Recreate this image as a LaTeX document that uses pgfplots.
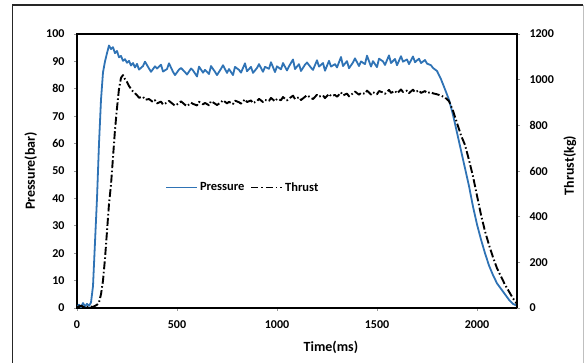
\documentclass[border=0pt]{standalone}
\usepackage{pgfplots}
\pgfplotsset{compat=1.18}
\usepackage{fontspec}
\setmainfont{Carlito}
\definecolor{pblue}{HTML}{2F73B5}

\begin{document}
\begin{tikzpicture}[x=1pt,y=1pt]
\useasboundingbox (0,0) rectangle (586,363);
\draw[line width=1.6pt, black!85] (12.5,0) -- (12.5,358) -- (583,358);
\draw[line width=1pt, black!25] (583,358) -- (583,0);

\begin{axis}[
  at={(77pt,55pt)}, anchor=south west,
  scale only axis, width=440pt, height=274pt,
  xmin=0, xmax=2200, ymin=0, ymax=100,
  xtick={0,500,1000,1500,2000},
  ytick={0,10,...,100},
  xtick pos=bottom, ytick pos=left,
  tick align=outside, major tick length=3pt,
  every tick/.style={black!40, line width=0.6pt},
  axis line style={black, line width=1.3pt},
  /pgf/number format/assume math mode=true,
  /pgf/number format/1000 sep={},
  tick label style={font=\fontsize{12}{14}\selectfont\bfseries},
  xticklabel style={yshift=-6pt},
  yticklabel style={xshift=-6pt},
  xlabel={Time(ms)},
  ylabel={Pressure(bar)},
  label style={font=\fontsize{14}{16}\selectfont\bfseries},
  xlabel style={at={(axis description cs:0.577,0)}, anchor=center, yshift=-39pt},
  ylabel style={at={(axis description cs:-0.105,0.5)}, anchor=center},
  legend columns=2,
  legend style={draw=none, fill=none, at={(axis cs:440,44)}, anchor=west,
    font=\fontsize{12.5}{14}\selectfont\bfseries, inner sep=0pt,
    /tikz/every even column/.style={column sep=4pt}},
  legend image code/.code={\draw[#1] (0pt,0pt) -- (31pt,0pt);},
]
\addplot[pblue, line width=1.8pt, line join=round] coordinates {
(0,0.5) (10,1.2) (20,0.3) (30,1.8) (40,0.6) (50,1.5) (60,0.8) (70,2) (80,8) (90,24)
(100,40) (110,60) (120,76) (130,86) (140,90) (150,93) (160,95.8) (170,94.5) (180,95.2) (190,93)
(200,93.8) (210,91.5) (220,92) (230,90.2) (240,90.8) (250,89.5) (260,90.2) (270,88.5) (280,89.4) (290,87.8)
(300,89.1) (310,87.0) (330,88.3) (340,89.9) (360,87.4) (370,86.2) (390,88.2) (400,87.4) (420,88.8) (430,86.3)
(450,87.2) (460,89.3) (480,86.2) (490,85.0) (510,87.0) (520,87.6) (540,86.1) (550,85.2) (570,87.4) (580,86.7)
(600,84.5) (610,88.1) (630,85.9) (640,86.9) (660,85.4) (670,88.3) (690,86.2) (700,85.0) (720,87.3) (730,88.6)
(750,85.8) (760,87.2) (780,85.0) (790,88.0) (810,86.9) (820,85.9) (840,89.3) (850,86.4) (870,88.0) (880,85.8)
(900,87.6) (910,89.0) (930,86.2) (940,88.0) (960,87.3) (970,89.7) (990,86.1) (1000,88.2) (1020,87.1) (1030,89.4)
(1050,86.7) (1060,88.2) (1080,90.7) (1090,87.2) (1110,89.0) (1120,86.5) (1140,88.8) (1150,89.6) (1170,87.7) (1180,86.9)
(1200,90.4) (1210,88.1) (1230,89.4) (1240,86.6) (1260,90.2) (1270,88.1) (1290,89.0) (1300,87.8) (1320,91.6) (1330,88.3)
(1350,90.1) (1360,87.5) (1380,89.6) (1390,91.1) (1410,88.3) (1420,90.0) (1440,89.0) (1450,92.1) (1470,88.1) (1480,90.1)
(1500,87.9) (1510,91.0) (1530,90.0) (1540,88.7) (1560,92.2) (1570,89.4) (1590,90.9) (1600,88.6) (1620,91.9) (1630,89.9)
(1650,90.7) (1660,89.0) (1680,91.8) (1690,89.7) (1710,91.0) (1720,89.4) (1740,90.5) (1750,89.2) (1770,88.6) (1780,87.6)
(1800,86.5) (1820,83.5) (1840,79.8) (1860,76.0) (1880,70.5)
(1900,64.0) (1920,57.5) (1940,51.0) (1960,44.5) (1980,37.0) (2000,30.5) (2020,25.0) (2040,20.0) (2060,15.5) (2080,12.0)
(2100,9.0) (2120,7.0) (2140,5.0) (2160,3.0) (2180,1.5) (2200,0.8)
};
\addlegendentry{Pressure}
\addlegendimage{black, line width=1.6pt, dash pattern=on 7pt off 3pt on 1.5pt off 3pt}
\addlegendentry{Thrust}
\end{axis}

\begin{axis}[
  at={(77pt,55pt)}, anchor=south west,
  scale only axis, width=440pt, height=274pt,
  xmin=0, xmax=2200, ymin=0, ymax=1200,
  ytick={0,200,...,1200},
  hide x axis,
  axis y line*=right,
  tick align=outside, major tick length=3pt,
  every tick/.style={black!40, line width=0.6pt},
  axis line style={black, line width=1.3pt},
  /pgf/number format/assume math mode=true,
  /pgf/number format/1000 sep={},
  tick label style={font=\fontsize{12}{14}\selectfont\bfseries},
  yticklabel style={xshift=6pt},
  ylabel={Thrust(kg)},
  label style={font=\fontsize{14}{16}\selectfont\bfseries},
  ylabel style={at={(axis description cs:1.12,0.52)}, anchor=center},
]
\addplot[black, line width=1.9pt, line join=round, dash pattern=on 8pt off 2.5pt on 1.5pt off 2.5pt] coordinates {
(0,4) (20,10) (40,2) (60,7) (80,5) (100,14) (110,24) (120,60) (130,120) (140,216)
(150,336) (160,456) (170,540) (180,660) (190,780) (200,876) (210,960) (220,1008) (230,1020) (240,1002)
(250,990) (260,972) (270,960) (280,948) (290,940)
(300,932) (310,921) (330,925) (340,912) (360,915) (380,902) (390,910) (400,896) (420,904) (430,891)
(450,899) (460,907) (480,893) (490,886) (510,897) (520,905) (540,890) (550,884) (570,899) (580,894)
(600,887) (610,903) (630,892) (640,898) (660,888) (670,906) (690,895) (700,889) (720,901) (730,910)
(750,896) (760,903) (780,893) (790,908) (810,901) (820,895) (840,914) (850,902) (870,909) (880,897)
(900,906) (910,916) (930,902) (940,911) (960,907) (970,920) (990,905) (1000,916) (1020,910) (1030,924)
(1050,909) (1060,917) (1080,930) (1090,915) (1110,923) (1120,911) (1140,925) (1150,932) (1170,920) (1180,915)
(1200,934) (1210,926) (1230,931) (1240,919) (1260,938) (1270,928) (1290,933) (1300,925) (1320,944) (1330,931)
(1350,939) (1360,927) (1380,940) (1390,948) (1410,934) (1420,942) (1440,938) (1450,952) (1470,935) (1480,945)
(1500,936) (1510,950) (1530,944) (1540,938) (1560,955) (1570,942) (1590,951) (1600,940) (1620,957) (1630,946)
(1650,952) (1660,941) (1680,956) (1690,945) (1710,953) (1720,942) (1740,950) (1750,941) (1770,946) (1780,940)
(1800,936) (1820,930) (1840,922) (1860,906) (1880,864) (1900,810) (1920,756) (1940,714) (1960,648) (1980,576)
(2000,492) (2020,408) (2040,336) (2060,276) (2080,222) (2100,174) (2120,138) (2140,102) (2160,72) (2180,42)
(2200,18)
};
\end{axis}
\end{tikzpicture}
\end{document}
